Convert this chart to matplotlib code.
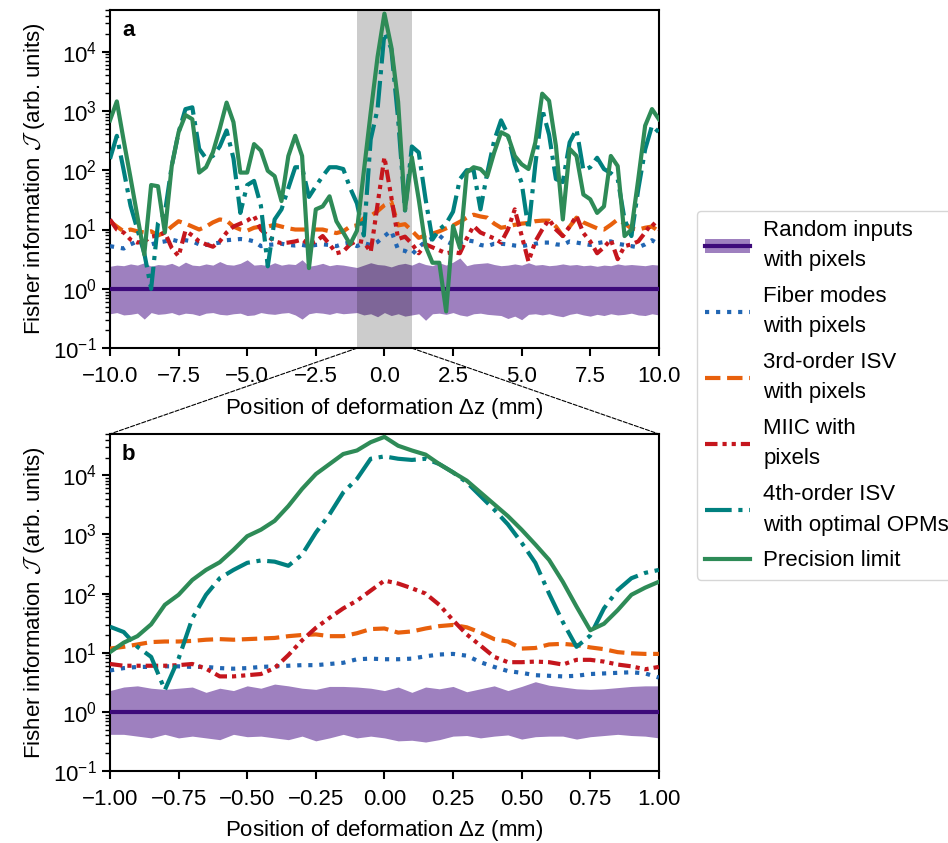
import numpy as np
import matplotlib
matplotlib.use("Agg")
import matplotlib.pyplot as plt
from matplotlib.patches import ConnectionPatch

plt.rcParams['font.family'] = ['Liberation Sans', 'DejaVu Sans']
plt.rcParams['font.size'] = 16
plt.rcParams['mathtext.fontset'] = 'custom'
plt.rcParams['mathtext.rm'] = 'Liberation Sans'
plt.rcParams['mathtext.it'] = 'Liberation Sans:italic'
plt.rcParams['mathtext.cal'] = 'cmsy10'

# --- data (log10 of Fisher information) ---
# panel a: dz from -10 to 10 mm, step 0.25 mm
dz_a = np.linspace(-10, 10, 81)

rand_up_a = [0.38, 0.40, 0.39, 0.42, 0.40, 0.44, 0.38, 0.41, 0.40,
             0.43, 0.38, 0.45, 0.40, 0.39, 0.42, 0.40, 0.46, 0.41,
             0.40, 0.43, 0.49, 0.40, 0.41, 0.39, 0.44, 0.40, 0.42,
             0.41, 0.49, 0.38, 0.40, 0.43, 0.39, 0.41, 0.40, 0.38,
             0.36, 0.40, 0.44, 0.41, 0.40, 0.37, 0.41, 0.43, 0.40,
             0.45, 0.41, 0.39, 0.44, 0.40, 0.45, 0.52, 0.39, 0.42,
             0.43, 0.44, 0.41, 0.39, 0.40, 0.42, 0.40, 0.44, 0.40,
             0.41, 0.39, 0.40, 0.42, 0.40, 0.41, 0.39, 0.40, 0.38,
             0.40, 0.39, 0.42, 0.40, 0.41, 0.40, 0.39, 0.41, 0.40]
rand_lo_a = [-0.42, -0.40, -0.44, -0.43, -0.41, -0.51, -0.40, -0.43, -0.42,
             -0.40, -0.44, -0.41, -0.42, -0.45, -0.41, -0.40, -0.43, -0.44,
             -0.42, -0.41, -0.45, -0.44, -0.40, -0.42, -0.43, -0.41, -0.40,
             -0.44, -0.51, -0.42, -0.40, -0.41, -0.43, -0.40, -0.42, -0.41,
             -0.40, -0.44, -0.42, -0.47, -0.40, -0.45, -0.42, -0.46, -0.44,
             -0.42, -0.53, -0.42, -0.41, -0.43, -0.40, -0.44, -0.46, -0.42,
             -0.41, -0.43, -0.44, -0.45, -0.50, -0.46, -0.52, -0.43, -0.42,
             -0.44, -0.42, -0.45, -0.47, -0.43, -0.41, -0.44, -0.46, -0.43,
             -0.45, -0.42, -0.44, -0.43, -0.41, -0.44, -0.45, -0.42, -0.44]
fiber_a = [0.72, 0.70, 0.68, 0.75, 0.80, 0.78, 0.75, 0.78, 0.80,
           0.83, 0.80, 0.82, 0.80, 0.75, 0.74, 0.76, 0.78, 0.82,
           0.83, 0.84, 0.83, 0.80, 0.72, 0.74, 0.75, 0.76, 0.74,
           0.73, 0.74, 0.72, 0.74, 0.75, 0.74, 0.72, 0.76, 0.78,
           0.72, 0.77, 0.74, 0.79, 0.89, 0.98, 0.66, 0.64, 0.58,
           0.70, 0.80, 0.85, 0.90, 0.80, 0.75, 0.78, 0.82, 0.80,
           0.74, 0.72, 0.76, 0.76, 0.75, 0.73, 0.72, 0.74, 0.76,
           0.78, 0.78, 0.75, 0.74, 0.80, 0.78, 0.76, 0.74, 0.77,
           0.79, 0.80, 0.76, 0.74, 0.72, 0.70, 0.75, 0.82, 0.75]
isv3_a = [1.14, 1.05, 0.97, 1.00, 0.97, 0.95, 0.97, 0.90, 0.95,
          1.05, 1.14, 1.10, 1.05, 1.00, 1.05, 1.12, 1.17, 1.15,
          1.05, 1.00, 0.98, 1.03, 1.05, 1.05, 1.08, 1.05, 1.02,
          1.00, 1.00, 1.00, 1.00, 1.00, 0.97, 0.94, 0.97, 1.05,
          1.07, 1.19, 1.23, 1.31, 1.41, 1.47, 1.07, 1.09, 0.98,
          0.86, 0.90, 0.93, 0.97, 1.02, 1.07, 1.13, 1.20, 1.25,
          1.22, 1.20, 1.10, 1.03, 1.05, 1.08, 1.10, 1.11, 1.14,
          1.15, 1.15, 1.05, 0.89, 1.05, 1.20, 1.12, 1.07, 1.02,
          1.00, 1.08, 1.17, 1.10, 1.02, 1.00, 1.03, 1.05, 0.97]
miic_a = [1.17, 1.00, 0.95, 0.83, 0.78, 0.80, 0.88, 0.90, 0.95,
          0.69, 0.55, 0.98, 0.90, 0.80, 0.75, 0.71, 0.80, 0.95,
          1.05, 1.10, 1.15, 1.23, 1.00, 0.89, 0.80, 0.77, 0.78,
          0.80, 0.83, 0.75, 0.80, 0.89, 0.75, 0.60, 0.63, 0.75,
          0.81, 0.79, 0.62, 1.42, 2.22, 1.55, 0.84, 0.88, 0.76,
          0.60, 0.75, 0.70, 0.65, 0.60, 0.62, 0.60, 0.85, 1.06,
          0.95, 0.90, 0.85, 0.78, 1.00, 1.34, 0.90, 0.46, 0.80,
          1.00, 1.17, 1.00, 0.89, 1.05, 1.23, 0.94, 0.80, 0.60,
          0.70, 0.83, 0.50, 0.72, 0.75, 0.80, 0.95, 1.11, 1.00]
isv4_a = [2.19, 2.58, 2.00, 1.40, 1.00, 0.60, 0.00, 1.11, 1.28,
          2.07, 2.64, 3.03, 3.06, 2.36, 2.20, 2.24, 2.40, 2.67,
          2.20, 1.28, 1.75, 1.82, 1.40, 0.38, 1.17, 1.34, 1.70,
          2.05, 2.05, 1.55, 1.73, 1.90, 2.05, 2.05, 2.02, 1.70,
          1.44, 0.90, 2.52, 3.03, 4.32, 4.05, 2.86, 1.32, 2.40,
          2.30, 1.51, 0.83, 1.00, 1.10, 1.30, 1.85, 2.00, 2.00,
          1.34, 1.96, 2.50, 2.84, 2.60, 2.10, 1.79, 1.00, 2.10,
          3.03, 2.60, 1.85, 1.80, 2.47, 2.69, 2.00, 2.05, 2.21,
          2.02, 1.95, 1.85, 1.17, 0.89, 1.68, 2.35, 2.75, 2.64]
limit_a = [2.84, 3.16, 2.50, 1.87, 1.22, 0.58, 1.75, 1.73, 0.95,
           2.07, 2.64, 2.93, 2.86, 1.96, 2.05, 2.30, 2.70, 3.14,
           2.81, 1.96, 1.96, 2.44, 2.33, 1.99, 1.90, 1.48, 2.24,
           2.58, 2.24, 0.35, 1.34, 1.39, 1.56, 1.14, 0.95, 0.75,
           0.98, 1.98, 2.97, 3.91, 4.64, 4.08, 3.15, 1.33, 2.22,
           1.51, 0.72, 0.44, 0.44, -0.38, 1.06, 0.69, 1.96, 2.05,
           2.02, 1.90, 2.30, 2.64, 2.58, 2.24, 2.10, 2.02, 2.47,
           3.29, 3.17, 2.41, 1.17, 2.36, 2.24, 1.59, 1.51, 1.28,
           1.39, 2.24, 2.07, 0.89, 1.00, 1.85, 2.75, 3.03, 2.86]

# panel b: dz from -1 to 1 mm, step 0.05 mm
dz_b = np.linspace(-1, 1, 41)

rand_up_b = [0.36, 0.42, 0.44, 0.40, 0.38, 0.40, 0.42, 0.33, 0.40, 0.36, 0.44,
             0.40, 0.47, 0.44, 0.40, 0.38, 0.43, 0.43, 0.42, 0.40, 0.36,
             0.42, 0.33, 0.42, 0.39, 0.43, 0.34, 0.39, 0.44, 0.36, 0.43,
             0.51, 0.45, 0.42, 0.39, 0.38, 0.39, 0.41, 0.43, 0.44, 0.44]
rand_lo_b = [-0.38, -0.38, -0.41, -0.44, -0.38, -0.44, -0.41, -0.44, -0.47, -0.38, -0.42,
             -0.41, -0.44, -0.47, -0.41, -0.49, -0.44, -0.38, -0.44, -0.41, -0.44,
             -0.49, -0.48, -0.51, -0.47, -0.41, -0.40, -0.44, -0.41, -0.39, -0.46,
             -0.42, -0.41, -0.41, -0.46, -0.42, -0.40, -0.38, -0.40, -0.41, -0.44]
fiber_b = [0.70, 0.74, 0.76, 0.76, 0.77, 0.77, 0.76, 0.76, 0.74, 0.73, 0.74,
           0.76, 0.77, 0.78, 0.79, 0.79, 0.81, 0.83, 0.89, 0.90, 0.89,
           0.89, 0.90, 0.94, 0.97, 0.98, 0.95, 0.84, 0.76, 0.69, 0.66,
           0.62, 0.61, 0.60, 0.61, 0.64, 0.65, 0.66, 0.67, 0.65, 0.58]
isv3_b = [1.07, 1.10, 1.14, 1.18, 1.19, 1.19, 1.20, 1.22, 1.23, 1.22, 1.23,
          1.24, 1.25, 1.28, 1.30, 1.31, 1.28, 1.28, 1.33, 1.40, 1.41,
          1.34, 1.36, 1.41, 1.45, 1.47, 1.43, 1.34, 1.23, 1.19, 1.07,
          1.08, 1.14, 1.15, 1.13, 1.09, 1.06, 1.01, 0.99, 0.98, 0.98]
miic_b = [0.81, 0.78, 0.78, 0.78, 0.78, 0.79, 0.81, 0.73, 0.60, 0.60, 0.62,
          0.64, 0.74, 0.96, 1.21, 1.42, 1.59, 1.75, 1.88, 2.05, 2.22,
          2.17, 2.09, 2.00, 1.81, 1.55, 1.31, 1.12, 0.93, 0.84, 0.84,
          0.85, 0.84, 0.80, 0.88, 0.88, 0.85, 0.80, 0.77, 0.72, 0.76]
isv4_b = [1.44, 1.35, 1.10, 0.93, 0.37, 0.90, 1.58, 1.98, 2.26, 2.40, 2.52,
          2.56, 2.54, 2.47, 2.66, 3.03, 3.34, 3.71, 3.94, 4.28, 4.32,
          4.28, 4.26, 4.28, 4.19, 4.05, 3.88, 3.65, 3.42, 3.17, 2.86,
          2.52, 2.00, 1.52, 1.10, 1.29, 1.75, 2.06, 2.26, 2.35, 2.40]
limit_b = [1.01, 1.17, 1.28, 1.48, 1.81, 1.98, 2.23, 2.40, 2.53, 2.74, 2.97,
           3.08, 3.23, 3.48, 3.77, 4.02, 4.19, 4.36, 4.42, 4.56, 4.65,
           4.50, 4.42, 4.35, 4.19, 4.05, 3.91, 3.71, 3.51, 3.31, 3.08,
           2.83, 2.57, 2.20, 1.78, 1.38, 1.49, 1.72, 1.98, 2.10, 2.20]

labels = ["Random inputs\nwith pixels", "Fiber modes\nwith pixels",
          "3rd-order ISV\nwith pixels", "MIIC with\npixels",
          "4th-order ISV\nwith optimal OPMs", "Precision limit"]

C_FILL = "#9e80bf"
C_RAND = "#3d0a7a"
C_FIB = "#2166b3"
C_ISV3 = "#e8600c"
C_MIIC = "#c5161d"
C_ISV4 = "#00807f"
C_LIM = "#2e8b57"
LW = 3


def dibujar_panel(ax, dz, up, lo, fib, isv3, miic, isv4, lim):
    p = lambda v: 10.0 ** np.asarray(v)
    fill = ax.fill_between(dz, p(up), p(lo), color=C_FILL, lw=0, zorder=1)
    l0, = ax.plot(dz, np.ones_like(dz), color=C_RAND, lw=LW, zorder=3)
    l1, = ax.plot(dz, p(fib), color=C_FIB, lw=LW, ls=':', zorder=3)
    l2, = ax.plot(dz, p(isv3), color=C_ISV3, lw=LW, ls='--', zorder=3)
    l3, = ax.plot(dz, p(miic), color=C_MIIC, lw=LW, ls=(0, (3, 1.2, 1, 1.2, 1, 1.2)), zorder=3)
    l4, = ax.plot(dz, p(isv4), color=C_ISV4, lw=LW, ls='-.', zorder=3)
    l5, = ax.plot(dz, p(lim), color=C_LIM, lw=LW, zorder=4)
    ax.set_yscale('log')
    ax.set_ylim(1e-1, 5e4)
    ax.set_xlim(dz[0], dz[-1])
    ax.set_ylabel(r"Fisher information $\mathcal{J}$ (arb. units)")
    ax.set_xlabel(r"Position of deformation $\Delta$z (mm)", labelpad=6)
    for s in ax.spines.values():
        s.set_linewidth(1.5)
    ax.tick_params(which='major', width=1.5, length=6)
    ax.tick_params(axis='x', which='major', pad=7)
    ax.tick_params(which='minor', width=1.0, length=3.5)
    return [(fill, l0), l1, l2, l3, l4, l5]


fig = plt.figure(figsize=(9.48, 8.43), dpi=100)
axa = fig.add_axes([0.116, 0.587, 0.579, 0.401])
axb = fig.add_axes([0.116, 0.0854, 0.579, 0.3998])

handles = dibujar_panel(axa, dz_a, rand_up_a, rand_lo_a, fiber_a, isv3_a, miic_a, isv4_a, limit_a)
dibujar_panel(axb, dz_b, rand_up_b, rand_lo_b, fiber_b, isv3_b, miic_b, isv4_b, limit_b)

axa.axvspan(-1, 1, color='k', alpha=0.2, lw=0, zorder=2)

axa.text(0.022, 0.97, 'a', transform=axa.transAxes, fontweight='bold', va='top', ha='left')
axb.text(0.022, 0.97, 'b', transform=axb.transAxes, fontweight='bold', va='top', ha='left')

for xv in (-1, 1):
    con = ConnectionPatch(xyA=(xv, 1e-1), coordsA=axa.transData,
                          xyB=(xv, 5e4), coordsB=axb.transData,
                          ls='--', color='k', lw=0.8)
    fig.add_artist(con)

leg = fig.legend(handles, labels, loc='center left', bbox_to_anchor=(0.723, 0.531),
                 labelspacing=0.65, handletextpad=0.6, handleheight=0.6)
for t in leg.get_texts():
    t.set_linespacing(1.6)

fig.savefig("out.png", dpi=100)
